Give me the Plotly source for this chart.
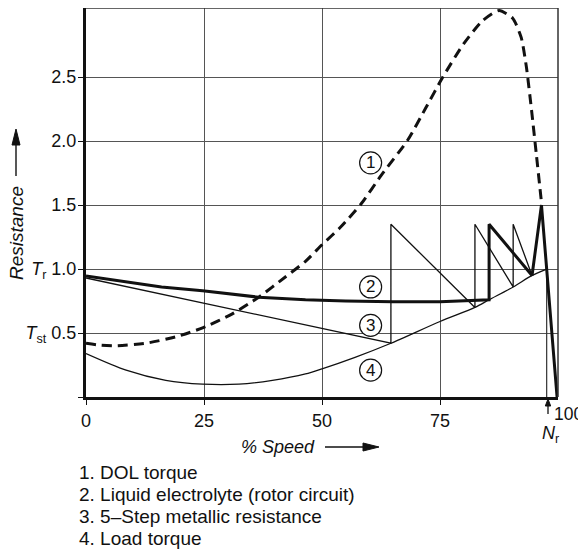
import plotly.graph_objects as go

# ---------------- data ----------------
speed_ticks = [0, 25, 50, 75]
speed_tick_labels = ["0", "25", "50", "75"]
res_ticks = [0, 0.5, 1.0, 1.5, 2.0, 2.5]
res_tick_labels = ["", "<i>T</i><sub>st</sub> 0.5", "<i>T</i><sub>r</sub> 1.0", "1.5", "2.0", "2.5"]

# 1. DOL torque (dashed)
dol_x = [0, 3, 6.3, 12.7, 19, 24.7, 31, 36.6, 42.3, 46.5, 50, 54, 58.3, 62.5, 68.2,
         72, 75.6, 80, 84, 87.5, 90.4, 92.2, 93.3, 94.4, 95.4, 96.5]
dol_y = [0.42, 0.405, 0.40, 0.42, 0.47, 0.54, 0.65, 0.78, 0.94, 1.06, 1.19, 1.33, 1.51,
         1.73, 2.01, 2.26, 2.50, 2.76, 2.94, 3.02, 2.96, 2.81, 2.58, 2.24, 1.90, 1.52]

# 2. Liquid electrolyte (rotor circuit) (thick)
liq_x = [0, 8.5, 16, 24.7, 36.6, 46.5, 55, 65, 75, 85.4, 85.4, 94.5, 96.5, 99.8]
liq_y = [0.945, 0.90, 0.86, 0.83, 0.78, 0.76, 0.75, 0.745, 0.745, 0.76, 1.35, 0.95, 1.5, 0.0]

# 3. 5-step metallic resistance (thin)
step_x = [0, 64.6, 64.6, 82.4, 82.4, 90.5, 90.5, 94.5, 96.5, 99.8]
step_y = [0.93, 0.42, 1.35, 0.70, 1.35, 0.86, 1.35, 0.95, 1.5, 0.0]

# 4. Load torque (thin)
load_x = [0, 8.5, 16.9, 24.7, 32.4, 39.5, 46.5, 50, 57, 64.6, 75, 82.4, 85.4, 90.5, 94.5, 97.6]
load_y = [0.34, 0.21, 0.13, 0.10, 0.10, 0.13, 0.18, 0.22, 0.31, 0.42, 0.59, 0.70, 0.76, 0.86, 0.95, 1.0]

# rated speed marker
nr_speed = 97.6
nr_x = [nr_speed, nr_speed]
nr_y = [0, 1.0]

# curve number labels
label_nums = ["1", "2", "3", "4"]
label_x = [60.3, 60.3, 60.3, 60.3]
label_y = [1.83, 0.86, 0.56, 0.21]

legend_lines = ["1. DOL torque", "2. Liquid electrolyte (rotor circuit)",
                "3. 5\u2013Step metallic resistance", "4. Load torque"]

# ---------------- layout geometry ----------------
OFF = 8                      # default page body margin
W, H = 586 - OFF, 550 - OFF
# plot area in page pixels
L, R, T, B = 86, 558, 8, 397
Y_MAX = 3.04
FONT = "Liberation Sans, Arial, Helvetica, sans-serif"
FS = 18


def px(xp):
    return (xp - L) / (R - L)


def py(yp):
    return (B - yp) / (B - T)


fig = go.Figure()

fig.add_trace(go.Scatter(x=load_x, y=load_y, mode="lines",
                         line=dict(color="#111", width=1.3, shape="spline", smoothing=0.8)))
fig.add_trace(go.Scatter(x=nr_x, y=nr_y, mode="lines",
                         line=dict(color="#333", width=1.2)))
fig.add_trace(go.Scatter(x=step_x, y=step_y, mode="lines",
                         line=dict(color="#111", width=1.3)))
fig.add_trace(go.Scatter(x=liq_x, y=liq_y, mode="lines",
                         line=dict(color="#111", width=3)))
fig.add_trace(go.Scatter(x=dol_x, y=dol_y, mode="lines",
                         line=dict(color="#111", width=3, dash="10px,6px",
                                   shape="spline", smoothing=0.6)))

shapes = []
# top and right frame (thin)
shapes.append(dict(type="line", xref="paper", yref="paper", x0=0, x1=1, y0=1, y1=1,
                   line=dict(color="#333", width=1.5)))
shapes.append(dict(type="line", xref="paper", yref="paper", x0=1, x1=1, y0=0, y1=1,
                   line=dict(color="#333", width=1.5)))


def arrow(x0, y0, x1, y1, tipx, tipy, b1x, b1y, b2x, b2y, w=1.4):
    shapes.append(dict(type="line", xref="paper", yref="paper",
                       x0=px(x0), y0=py(y0), x1=px(x1), y1=py(y1),
                       line=dict(color="#111", width=w)))
    shapes.append(dict(type="path", xref="paper", yref="paper",
                       path=f"M{px(tipx)},{py(tipy)} L{px(b1x)},{py(b1y)} L{px(b2x)},{py(b2y)} Z",
                       fillcolor="#111", line=dict(color="#111", width=1)))


# y-title arrow
arrow(16, 176, 16, 144, 16, 129, 12, 145, 20, 145)
# x-title arrow
arrow(325, 447, 363, 447, 379, 447, 363, 443, 363, 451)
# N_r arrow
arrow(548, 414, 548, 404, 548, 399, 545.3, 406, 550.7, 406, w=1.3)

# circled number labels
for lx, ly in zip(label_x, label_y):
    shapes.append(dict(type="circle", xref="x", yref="y", xsizemode="pixel", ysizemode="pixel",
                       xanchor=lx, yanchor=ly, x0=-11, x1=11, y0=-11, y1=11,
                       fillcolor="white", line=dict(color="#111", width=1.2), layer="above"))

annotations = []
for n, lx, ly in zip(label_nums, label_x, label_y):
    annotations.append(dict(x=lx, y=ly, xref="x", yref="y", text=n, showarrow=False,
                            font=dict(size=17, family=FONT, color="#111"),
                            xanchor="center", yanchor="middle"))

# "100" tick label and N_r
annotations.append(dict(x=100, y=py(414), xref="x", yref="paper", text="100", showarrow=False,
                        xanchor="left", yanchor="middle", xshift=-5, borderpad=0,
                        font=dict(size=17.5, family=FONT, color="#111")))
annotations.append(dict(x=nr_speed, y=py(434), xref="x", yref="paper",
                        text="<i>N</i><sub>r</sub>", showarrow=False,
                        xanchor="center", yanchor="middle", xshift=4,
                        font=dict(size=FS, family=FONT, color="#111")))
# axis titles
annotations.append(dict(x=px(16), y=py(233), xref="paper", yref="paper",
                        text="<i>Resistance</i>", textangle=-90, showarrow=False,
                        xanchor="center", yanchor="middle",
                        font=dict(size=19, family=FONT, color="#111")))
annotations.append(dict(x=px(278), y=py(447), xref="paper", yref="paper",
                        text="<i>% Speed</i>", showarrow=False,
                        xanchor="center", yanchor="middle",
                        font=dict(size=FS, family=FONT, color="#111")))
# legend text
for i, line in enumerate(legend_lines):
    annotations.append(dict(x=px(77), y=py(472 + 22.3 * i), xref="paper", yref="paper",
                            text=line, showarrow=False, xanchor="left", yanchor="middle",
                            font=dict(size=19, family=FONT, color="#111")))

fig.update_layout(
    width=W, height=H,
    margin=dict(l=L - OFF, r=(W + OFF) - R, t=T - OFF, b=(H + OFF) - B, pad=0),
    paper_bgcolor="white", plot_bgcolor="white",
    showlegend=False,
    font=dict(family=FONT, size=FS, color="#111"),
    shapes=shapes, annotations=annotations,
    xaxis=dict(range=[0, 100], tickvals=speed_ticks, ticktext=speed_tick_labels,
               showgrid=True, gridcolor="#555", gridwidth=1, zeroline=False,
               showline=True, linecolor="#111", linewidth=3,
               ticks="outside", ticklen=5, tickwidth=1.3, tickcolor="#111",
               ticklabelstandoff=0, fixedrange=True),
    yaxis=dict(range=[0, Y_MAX], tickvals=res_ticks, ticktext=res_tick_labels,
               showgrid=True, gridcolor="#555", gridwidth=1, zeroline=False,
               showline=True, linecolor="#111", linewidth=3,
               ticks="outside", ticklen=5, tickwidth=1.3, tickcolor="#111",
               ticklabelstandoff=-2, fixedrange=True),
)

fig.write_html("out.html")
